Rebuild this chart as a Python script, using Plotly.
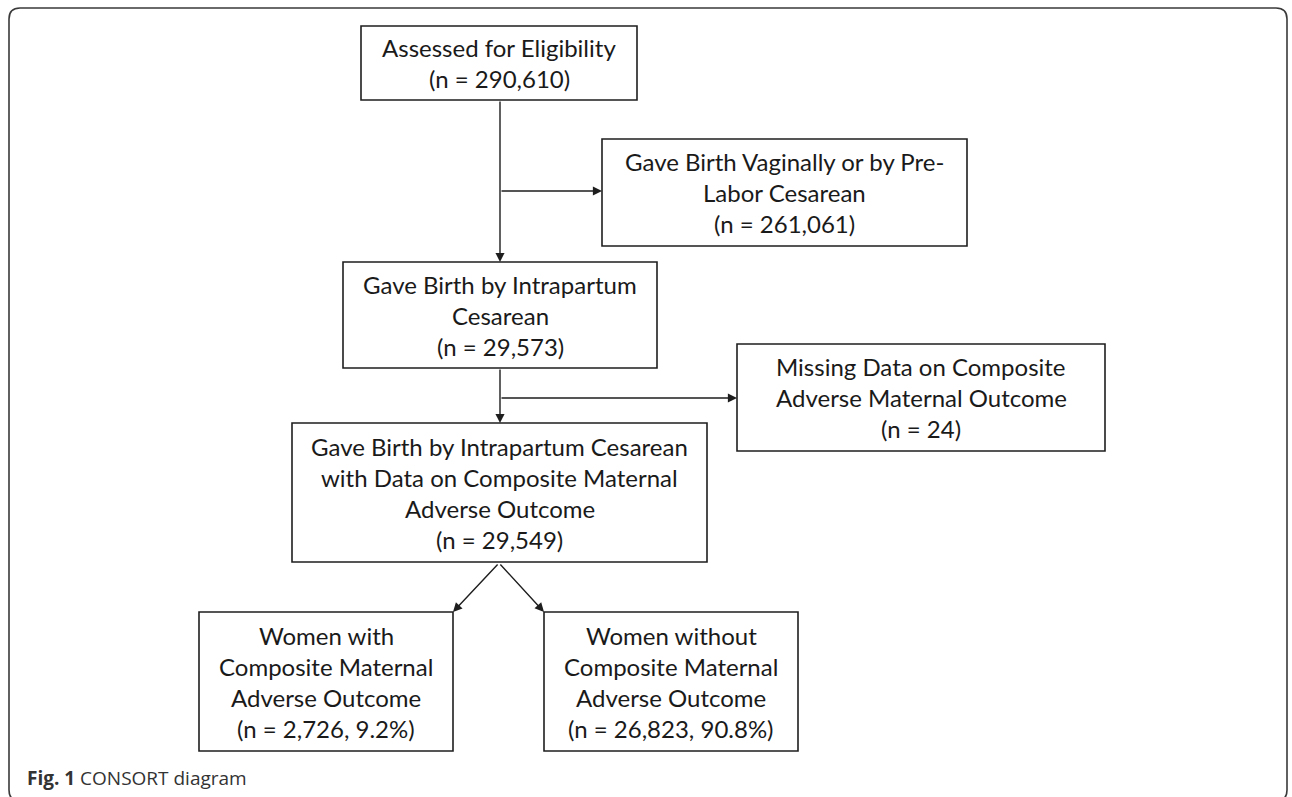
import plotly.graph_objects as go

# ---------------- data ----------------
stage_titles = [
    ["Assessed for Eligibility"],
    ["Gave Birth Vaginally or by Pre-", "Labor Cesarean"],
    ["Gave Birth by Intrapartum", "Cesarean"],
    ["Missing Data on Composite", "Adverse Maternal Outcome"],
    ["Gave Birth by Intrapartum Cesarean", "with Data on Composite Maternal", "Adverse Outcome"],
    ["Women with", "Composite Maternal", "Adverse Outcome"],
    ["Women without", "Composite Maternal", "Adverse Outcome"],
]
stage_counts = [290610, 261061, 29573, 24, 29549, 2726, 26823]
stage_percents = [None, None, None, None, None, 9.2, 90.8]
caption_bold = "Fig. 1"
caption_text = "CONSORT diagram"

# ---------------- layout (pixel coordinates) ----------------
box_geom = [  # x0, y0, x1, y1
    (361, 26, 637, 100),
    (602, 139, 967, 246),
    (343, 262, 657, 368),
    (737, 344, 1105, 451),
    (292, 423, 707, 562),
    (199, 612, 453, 751),
    (544, 612, 798, 751),
]
# arrows: (start_x, start_y, end_x, end_y)
arrows = [
    (500, 100, 500, 262),
    (500, 191, 602, 191),
    (500, 368, 500, 423),
    (500, 398, 737, 398),
    (499, 563, 453, 612),
    (499, 563, 544, 612),
]
W, H = 1292, 797
LINE_H = 31
TEXT_FONT = dict(family="Lato", size=24, color="#1a1a1a")

fig = go.Figure()
fig.add_trace(go.Scatter(x=[0, W], y=[0, H], mode="markers",
                         marker=dict(opacity=0), hoverinfo="skip", showlegend=False))

shapes = []
annotations = []

# outer rounded frame
x0, y0, x1, y1, r = 9, 8, 1287, 801, 11
shapes.append(dict(
    type="path", xref="x", yref="y",
    path=(f"M {x0+r},{y0} L {x1-r},{y0} Q {x1},{y0} {x1},{y0+r} "
          f"L {x1},{y1-r} Q {x1},{y1} {x1-r},{y1} L {x0+r},{y1} "
          f"Q {x0},{y1} {x0},{y1-r} L {x0},{y0+r} Q {x0},{y0} {x0+r},{y0} Z"),
    line=dict(color="#3a3a3a", width=1.6), fillcolor="rgba(0,0,0,0)"))

for titles, n, pct, (bx0, by0, bx1, by1) in zip(stage_titles, stage_counts, stage_percents, box_geom):
    shapes.append(dict(type="rect", xref="x", yref="y", x0=bx0, y0=by0, x1=bx1, y1=by1,
                       line=dict(color="#1e1e1e", width=1.6), fillcolor="white"))
    count_line = f"(n = {n:,})" if pct is None else f"(n = {n:,}, {pct}%)"
    lines = titles + [count_line]
    cx = (bx0 + bx1) / 2
    cy = (by0 + by1) / 2
    start = cy - (len(lines) - 1) * LINE_H / 2
    for i, ln in enumerate(lines):
        annotations.append(dict(x=cx, y=start + i * LINE_H, xref="x", yref="y",
                                text=ln, showarrow=False, font=TEXT_FONT,
                                xanchor="center", yanchor="middle"))

for sx, sy, ex, ey in arrows:
    annotations.append(dict(x=ex, y=ey, ax=sx, ay=sy, xref="x", yref="y",
                            axref="x", ayref="y", text="", showarrow=True,
                            arrowhead=2, arrowsize=1.3, arrowwidth=1.4,
                            arrowcolor="#1e1e1e", standoff=0, startstandoff=0))

annotations.append(dict(x=25, y=778, xref="x", yref="y", xanchor="left", yanchor="middle",
                        text=f"<b>{caption_bold}</b> {caption_text}", showarrow=False,
                        font=dict(family="Open Sans", size=19, color="#333333")))

fig.update_layout(
    width=W, height=H, margin=dict(l=0, r=0, t=0, b=0),
    paper_bgcolor="white", plot_bgcolor="white",
    xaxis=dict(range=[0, W], visible=False, fixedrange=True),
    yaxis=dict(range=[H, 0], visible=False, fixedrange=True),
    shapes=shapes, annotations=annotations, showlegend=False,
)
fig.write_html("out.html", config={"displayModeBar": False},
               post_script="document.body.style.margin='0';document.body.style.overflow='hidden';")
